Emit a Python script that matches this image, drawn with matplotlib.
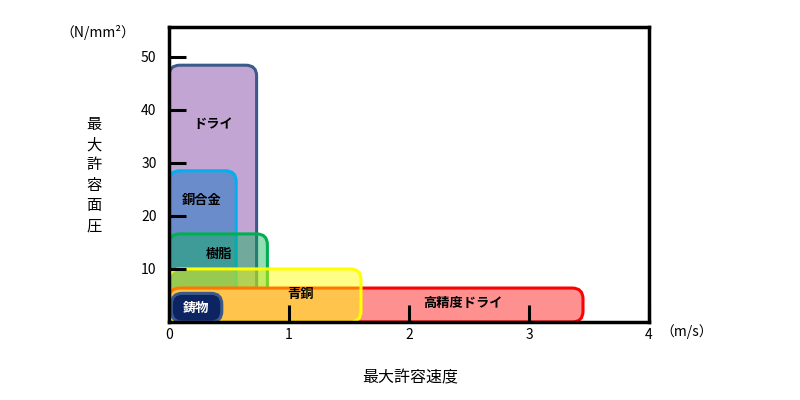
import matplotlib
matplotlib.use("Agg")
import matplotlib.pyplot as plt
from matplotlib.patches import FancyBboxPatch

plt.rcParams['font.family'] = ['Noto Sans CJK JP', 'DejaVu Sans']

# materials: name, max speed (m/s), max pressure (N/mm2)
names = ["ドライ", "銅合金", "樹脂", "高精度ドライ", "青銅", "鋳物"]
x_start = [0.0, 0.0, 0.0, 0.0, 0.0, 0.02]
speeds = [0.73, 0.56, 0.82, 3.45, 1.6, 0.44]
pressures = [48.4, 28.5, 16.6, 6.4, 10.0, 5.4]
y_start = [0.0, 0.0, 0.0, 0.0, 0.0, 0.0]
fills = ["#c3a5d4", "#6b8ccb", (0.0, 0.69, 0.31, 0.42), "#ff9090", (1.0, 1.0, 0.0, 0.47), "#0c2461"]
edges = ["#3b5a8a", "#00b0f0", "#00b050", "#ff0000", "#ffff00", "#3b5a8a"]
label_pos = [(0.37, 37.3), (0.27, 23.0), (0.42, 12.8), (2.45, 3.5), (1.1, 5.2), (0.23, 2.6)]
label_col = ["black", "black", "black", "black", "black", "white"]

x_ticks = [0, 1, 2, 3, 4]
y_ticks = [10, 20, 30, 40, 50]

fig = plt.figure(figsize=(8, 4), dpi=100)
ax = fig.add_axes([169 / 800, 1 - 322 / 400, 480 / 800, 295 / 400])
ax.set_xlim(0, 4)
ax.set_ylim(0, 55.6)

# ratio to keep corners round in pixels
aspect = (55.6 / 295) / (4 / 480)

for i in range(len(names)):
    w = speeds[i] - x_start[i]
    h = pressures[i] - y_start[i]
    box = FancyBboxPatch((x_start[i], y_start[i]), w, h,
                         boxstyle="round,pad=0,rounding_size=0.09",
                         mutation_aspect=aspect,
                         facecolor=fills[i], edgecolor=edges[i],
                         linewidth=2.2, zorder=1 + 0.1 * i)
    ax.add_patch(box)
    ax.text(label_pos[i][0], label_pos[i][1], names[i], ha="center", va="center",
            fontsize=9.5, fontweight="bold", color=label_col[i], zorder=20)

for s in ax.spines.values():
    s.set_linewidth(2.5)
    s.set_color("black")
    s.set_zorder(5)

ax.set_xticks(x_ticks)
ax.set_yticks(y_ticks)
ax.tick_params(direction="in", length=12, width=2.2, colors="black",
               labelsize=10)
ax.tick_params(axis="y", pad=9)
ax.tick_params(axis="x", pad=4)
x_tick_cols = ["black", "#8a5a00", "#6a0000", "#6a0000", "black"]
y_tick_cols = ["#e8e800", "#1f3a6a", "#3a1f4a", "#3a1f4a", "black"]
for t, c in zip(ax.xaxis.get_major_ticks(), x_tick_cols):
    t.tick1line.set_color(c)
for t, c in zip(ax.yaxis.get_major_ticks(), y_tick_cols):
    t.tick1line.set_color(c)

fig.text(98 / 800, 1 - 33 / 400, "（N/mm²）", ha="center", va="center", fontsize=10)
fig.text(94 / 800, 1 - 175 / 400, "\n".join("最大許容面圧"), ha="center", va="center",
         fontsize=11, linespacing=1.25)
fig.text(410 / 800, 1 - 378 / 400, "最大許容速度", ha="center", va="center", fontsize=11.5)
fig.text(687 / 800, 1 - 332 / 400, "（m/s）", ha="center", va="center", fontsize=10)

fig.savefig("out.png", dpi=100)
